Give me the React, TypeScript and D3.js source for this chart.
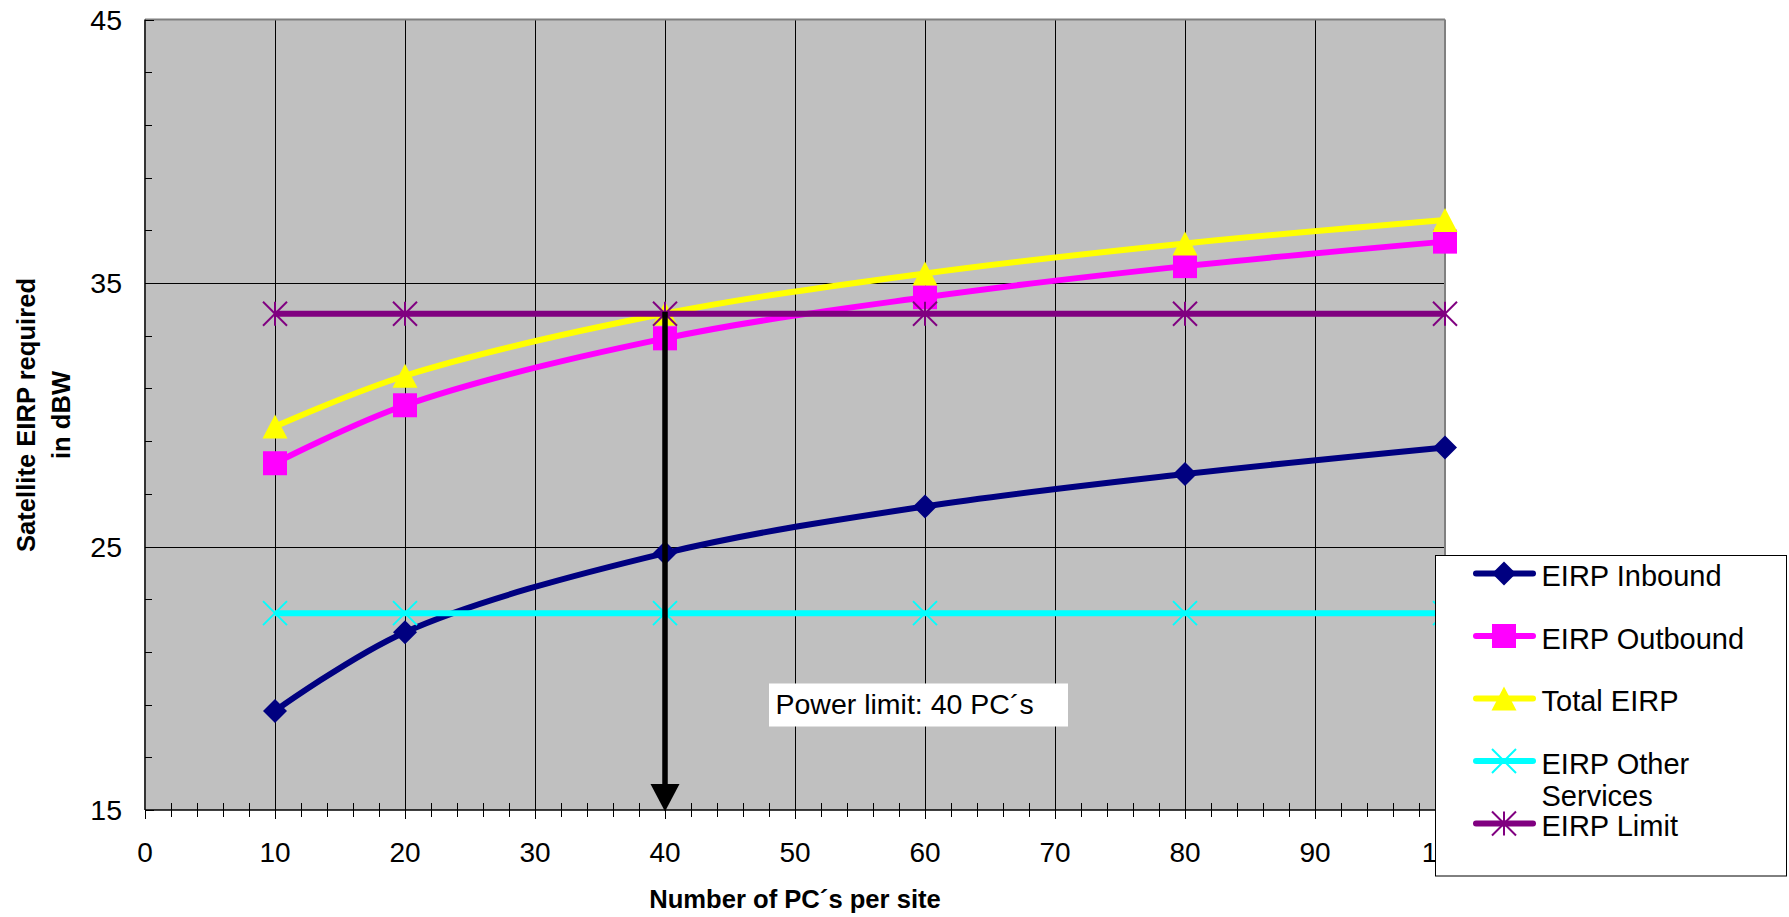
import React from "react";
import * as d3 from "d3";

const pcCounts = [10, 20, 40, 60, 80, 100];
const eirpInbound = [18.76, 21.75, 24.75, 26.52, 27.75, 28.76];
const eirpOutbound = [28.16, 30.36, 32.9, 34.46, 35.64, 36.57];
const totalEirp = [29.55, 31.48, 33.84, 35.36, 36.5, 37.39];
const eirpOther = [22.47, 22.47, 22.47, 22.47, 22.47, 22.47];
const eirpLimit = [33.83, 33.83, 33.83, 33.83, 33.83, 33.83];
const xTickValues = [0, 10, 20, 30, 40, 50, 60, 70, 80, 90, 100];
const yTickValues = [15, 25, 35, 45];
const powerLimitPCs = 40;
const powerLimitLabel = "Power limit: 40 PC´s";

type MarkerKind = "diamond" | "square" | "triangle" | "x" | "star";

const seriesList: { name: string[]; values: number[]; color: string; marker: MarkerKind }[] = [
  { name: ["EIRP Inbound"], values: eirpInbound, color: "#000080", marker: "diamond" },
  { name: ["EIRP Outbound"], values: eirpOutbound, color: "#FF00FF", marker: "square" },
  { name: ["Total EIRP"], values: totalEirp, color: "#FFFF00", marker: "triangle" },
  { name: ["EIRP Other", "Services"], values: eirpOther, color: "#00FFFF", marker: "x" },
  { name: ["EIRP Limit"], values: eirpLimit, color: "#800080", marker: "star" },
];

const FONT = "'Liberation Sans', Arial, Helvetica, sans-serif";

function Marker({ kind, color, x, y }: { kind: MarkerKind; color: string; x: number; y: number }) {
  const s = 12;
  const t = `translate(${x},${y})`;
  if (kind === "diamond")
    return <path transform={t} d={`M0,${-s}L${s},0L0,${s}L${-s},0Z`} fill={color} />;
  if (kind === "square")
    return <rect transform={t} x={-s} y={-s} width={2 * s} height={2 * s} fill={color} />;
  if (kind === "triangle")
    return <path transform={t} d={`M0,${-s}L${s + 0.5},${s}L${-s - 0.5},${s}Z`} fill={color} />;
  if (kind === "x")
    return (
      <g transform={t} stroke={color} strokeWidth={2}>
        <line x1={-s} y1={-s} x2={s} y2={s} />
        <line x1={-s} y1={s} x2={s} y2={-s} />
      </g>
    );
  return (
    <g transform={t} stroke={color} strokeWidth={2}>
      <line x1={-s} y1={-s} x2={s} y2={s} />
      <line x1={-s} y1={s} x2={s} y2={-s} />
      <line x1={0} y1={-s} x2={0} y2={s} />
    </g>
  );
}

export default function App() {
  const W = 1789;
  const H = 917;
  const left = 145;
  const right = 1445;
  const top = 19.5;
  const bottom = 810;

  const x = d3.scaleLinear().domain([0, 100]).range([left, right]);
  const y = d3.scaleLinear().domain([15, 45]).range([bottom, top]);

  const line = d3
    .line<number>()
    .x((_, i) => x(pcCounts[i]))
    .y((v) => y(v))
    .curve(d3.curveCatmullRom.alpha(0.5));

  const minorX = d3.range(0, 100.001, 2).filter((v) => v % 10 !== 0);
  const minorY = d3.range(15, 45.001, 2).filter((v) => (v - 15) % 10 !== 0);
  const gridX = xTickValues.filter((v) => v > 0 && v < 100);
  const gridY = yTickValues.filter((v) => v > 15 && v < 45);

  const arrowX = x(powerLimitPCs);
  const arrowTop = y(eirpLimit[pcCounts.indexOf(powerLimitPCs)]) - 2;

  const legX = 1435.5;
  const legY = 555.5;
  const legW = 351;
  const legH = 320.5;
  const rowY0 = 573.5;
  const rowStep = 62.5;

  return (
    <svg
      width={W}
      height={H}
      style={{ position: "absolute", left: 0, top: 0, background: "#fff" }}
      fontFamily={FONT}
    >
      {/* plot background */}
      <rect x={left} y={top} width={right - left} height={bottom - top} fill="#C0C0C0" />
      {/* gridlines */}
      {gridX.map((v) => (
        <line key={"gx" + v} x1={Math.round(x(v)) + 0.5} x2={Math.round(x(v)) + 0.5} y1={top} y2={bottom} stroke="#000" strokeWidth={1} />
      ))}
      {gridY.map((v) => (
        <line key={"gy" + v} x1={left} x2={right} y1={Math.round(y(v)) + 0.5} y2={Math.round(y(v)) + 0.5} stroke="#000" strokeWidth={1} />
      ))}
      {/* plot border */}
      <line x1={left} x2={right} y1={top} y2={top} stroke="#808080" strokeWidth={2} />
      <line x1={right} x2={right} y1={top} y2={bottom} stroke="#808080" strokeWidth={2} />
      {/* axes */}
      <line x1={left} x2={left} y1={top} y2={bottom} stroke="#333" strokeWidth={2} />
      <line x1={left} x2={right} y1={bottom} y2={bottom} stroke="#000" strokeWidth={1.5} />
      {/* y ticks */}
      {minorY.map((v) => (
        <line key={"my" + v} x1={left} x2={left + 7} y1={Math.round(y(v)) + 0.5} y2={Math.round(y(v)) + 0.5} stroke="#000" />
      ))}
      {yTickValues.map((v) => (
        <line key={"ty" + v} x1={left} x2={left + 9} y1={Math.round(y(v)) + 0.5} y2={Math.round(y(v)) + 0.5} stroke="#000" />
      ))}
      {yTickValues.map((v) => (
        <text key={"ly" + v} x={122} y={y(v)} dy="0.36em" textAnchor="end" fontSize={28.5} fill="#000">
          {v}
        </text>
      ))}
      {/* x ticks */}
      {minorX.map((v) => (
        <line key={"mx" + v} x1={Math.round(x(v)) + 0.5} x2={Math.round(x(v)) + 0.5} y1={bottom - 7} y2={bottom + 7} stroke="#000" />
      ))}
      {xTickValues.map((v) => (
        <line key={"tx" + v} x1={Math.round(x(v)) + 0.5} x2={Math.round(x(v)) + 0.5} y1={bottom} y2={bottom + 9} stroke="#000" />
      ))}
      {xTickValues.map((v) => (
        <text key={"lx" + v} x={x(v)} y={862} textAnchor="middle" fontSize={28} fill="#000">
          {v}
        </text>
      ))}
      {/* series */}
      {seriesList.map((s) => (
        <g key={s.name.join(" ")}>
          <path d={line(s.values) || ""} fill="none" stroke={s.color} strokeWidth={6} strokeLinejoin="round" />
          {s.values.map((v, i) => (
            <Marker key={i} kind={s.marker} color={s.color} x={x(pcCounts[i])} y={y(v)} />
          ))}
        </g>
      ))}
      {/* arrow */}
      <line x1={arrowX} x2={arrowX} y1={arrowTop} y2={bottom - 24} stroke="#000" strokeWidth={5.5} />
      <path d={`M${arrowX - 14.5},${bottom - 26}L${arrowX + 14.5},${bottom - 26}L${arrowX},${bottom + 1.5}Z`} fill="#000" />
      {/* annotation */}
      <rect x={769} y={683.5} width={299} height={43} fill="#fff" />
      <text x={775.5} y={713.5} fontSize={28.5} fill="#000">
        {powerLimitLabel}
      </text>
      {/* axis titles */}
      <text x={795} y={908} textAnchor="middle" fontSize={25.6} fontWeight="bold" fill="#000">
        Number of PC´s per site
      </text>
      <g transform="rotate(-90)">
        <text x={-415} y={35} textAnchor="middle" fontSize={25.6} fontWeight="bold" fill="#000">
          Satellite EIRP required
        </text>
        <text x={-415} y={70} textAnchor="middle" fontSize={25.6} fontWeight="bold" fill="#000">
          in dBW
        </text>
      </g>
      {/* legend */}
      <rect x={legX} y={legY} width={legW} height={legH} fill="#fff" stroke="#000" strokeWidth={1} />
      {seriesList.map((s, i) => {
        const ry = rowY0 + i * rowStep;
        return (
          <g key={"leg" + i}>
            <line x1={1476} x2={1533} y1={ry} y2={ry} stroke={s.color} strokeWidth={6} strokeLinecap="round" />
            <Marker kind={s.marker} color={s.color} x={1504} y={ry} />
            {s.name.map((t, j) => (
              <text key={j} x={1541.5} y={ry + 12.5 + j * 32.7} fontSize={29} fill="#000">
                {t}
              </text>
            ))}
          </g>
        );
      })}
    </svg>
  );
}
